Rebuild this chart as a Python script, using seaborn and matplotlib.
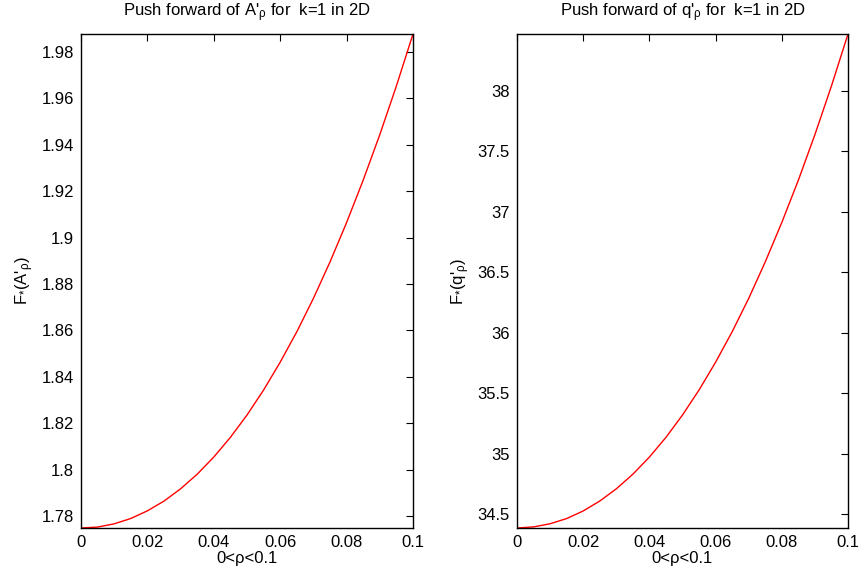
import numpy as np
import pandas as pd
import seaborn as sns
import matplotlib
matplotlib.use("Agg")
import matplotlib.pyplot as plt
from matplotlib.ticker import FuncFormatter, MultipleLocator

rho = [0.0, 0.005, 0.01, 0.015, 0.02, 0.025, 0.03, 0.035, 0.04, 0.045, 0.05,
       0.055, 0.06, 0.065, 0.07, 0.075, 0.08, 0.085, 0.09, 0.095, 0.1]
A_vals = [1.7748, 1.7752, 1.7766, 1.7789, 1.7822, 1.7864, 1.7917, 1.7980, 1.8054,
          1.8139, 1.8235, 1.8343, 1.8463, 1.8594, 1.8738, 1.8895, 1.9065, 1.9248,
          1.9444, 1.9654, 1.9878]
q_vals = [34.384, 34.393, 34.419, 34.462, 34.525, 34.607, 34.708, 34.829, 34.971,
          35.134, 35.319, 35.526, 35.756, 36.008, 36.284, 36.586, 36.912, 37.262,
          37.639, 38.042, 38.472]

titles = [r"Push forward of A'$_\rho$ for  k=1 in 2D",
          r"Push forward of q'$_\rho$ for  k=1 in 2D"]
ylabels = [r"F$_{*}$(A'$_\rho$)", r"F$_{*}$(q'$_\rho$)"]
xlabel = "0<ρ<0.1"

sns.set_style("white")
plt.rcParams['font.family'] = ['Liberation Sans', 'DejaVu Sans']
plt.rcParams['mathtext.fontset'] = 'custom'
plt.rcParams['mathtext.rm'] = 'Liberation Sans'
plt.rcParams['mathtext.it'] = 'Liberation Sans'
plt.rcParams['mathtext.sf'] = 'Liberation Sans'
plt.rcParams['text.color'] = 'black'
plt.rcParams['axes.labelcolor'] = 'black'

fig = plt.figure(figsize=(8.6, 5.74), dpi=100)
ax1 = fig.add_axes([81/860, 1-528/574, (413-81)/860, (528-34)/574])
ax2 = fig.add_axes([517/860, 1-528/574, (848-517)/860, (528-34)/574])

df = pd.DataFrame({"rho": rho, "A": A_vals, "q": q_vals})
fmt = FuncFormatter(lambda v, p: "%g" % round(v, 6))

for ax, col, title, ylab, ystep in [(ax1, "A", titles[0], ylabels[0], 0.02),
                                      (ax2, "q", titles[1], ylabels[1], 0.5)]:
    sns.lineplot(data=df, x="rho", y=col, ax=ax, color="red", linewidth=1.0)
    ax.set_xlim(min(rho), max(rho))
    ax.set_ylim(min(df[col]), max(df[col]))
    ax.xaxis.set_major_locator(MultipleLocator(0.02))
    ax.yaxis.set_major_locator(MultipleLocator(ystep))
    ax.xaxis.set_major_formatter(fmt)
    ax.yaxis.set_major_formatter(fmt)
    ax.tick_params(direction="in", length=5, width=0.8, top=True, right=True,
                   labelsize=12, colors="black", pad=5)
    for s in ax.spines.values():
        s.set_color("black")
        s.set_linewidth(1.0)
    ax.set_title(title, fontsize=12, pad=13, color="black")
    ax.set_ylabel(ylab, fontsize=12, color="black", labelpad=4)
    ax.set_xlabel(xlabel, fontsize=12, color="black", labelpad=1)

fig.savefig("out.png", dpi=100)
